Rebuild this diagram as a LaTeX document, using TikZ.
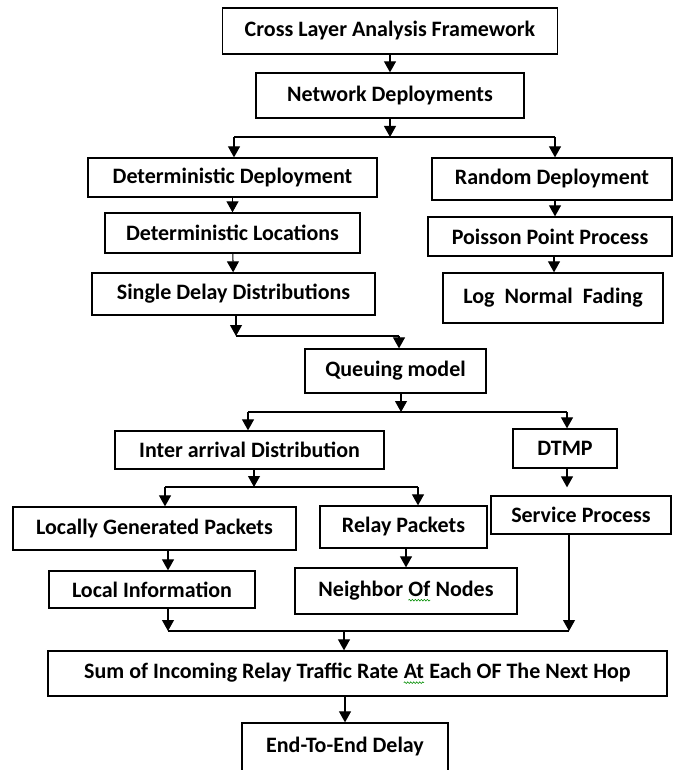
\documentclass[tikz,border=0pt]{standalone}
\usepackage{fontspec}
\setmainfont{Carlito}
\usepackage{tikz}
\usetikzlibrary{arrows.meta}
\usetikzlibrary{calc}
\usetikzlibrary{decorations.pathmorphing}

\newcommand\squig[1]{\tikz[baseline=(sq.base)]{\node[draw=none,inner sep=0pt,outer sep=0pt,minimum width=0pt,minimum height=0pt] (sq) {#1};
  \draw[green!55!black,line width=.6pt,decorate,decoration={snake,amplitude=.8pt,segment length=3pt}]
    ([yshift=-4pt]sq.base west) -- ([yshift=-4pt]sq.base east);}}

\tikzset{
  box/.style={draw,line width=1.3pt,inner sep=0pt,align=center,
    font=\fontsize{22}{26}\selectfont\bfseries},
  arr/.style={line width=1.1pt,-{Triangle[length=11pt,width=12pt]}},
  ln/.style={line width=1.1pt}
}

\begin{document}
\begin{tikzpicture}[x=1pt,y=-1pt]
  \useasboundingbox (0,0) rectangle (674,770);
  \node[box,minimum width=335,minimum height=46] (cross) at (390,31) {Cross Layer Analysis Framework};
  \node[box,minimum width=268,minimum height=45] (net) at (390,95.5) {Network Deployments};
  \node[box,minimum width=289,minimum height=39] (detdep) at (232.5,177.5) {Deterministic Deployment};
  \node[box,minimum width=240,minimum height=42] (random) at (552,179) {Random Deployment};
  \node[box,minimum width=255,minimum height=40] (detloc) at (232.5,233) {Deterministic Locations};
  \node[box,minimum width=244,minimum height=39] (poisson) at (550,236.5) {Poisson Point Process};
  \node[box,minimum width=283,minimum height=42] (single) at (233.5,294) {Single Delay Distributions};
  \node[box,minimum width=220,minimum height=50] (fading) at (553,298) {Log\ \ Normal\ \ Fading};
  \node[box,minimum width=181,minimum height=44] (queue) at (395.5,371) {Queuing model};
  \node[box,minimum width=269,minimum height=38] (inter) at (249.5,450) {Inter arrival Distribution};
  \node[box,minimum width=104,minimum height=39] (dtmp) at (565,448.5) {DTMP};
  \node[box,minimum width=283,minimum height=43] (locgen) at (154.5,528.5) {Locally Generated Packets};
  \node[box,minimum width=167,minimum height=42] (relay) at (403.5,527) {Relay Packets};
  \node[box,minimum width=180,minimum height=38] (service) at (581,515) {Service Process};
  \node[box,minimum width=206,minimum height=37] (locinfo) at (152,589.5) {Local Information};
  \node[box,minimum width=222,minimum height=46] (neighbor) at (406,591) {Neighbor \squig{Of} Nodes};
  \node[box,minimum width=619,minimum height=45] (sum) at (357.5,673.5) {Sum of Incoming Relay Traffic Rate \squig{At} Each OF The Next Hop};
  \node[box,minimum width=206,minimum height=48] (endd) at (345,747) {End-To-End Delay};

  \coordinate (s1) at (390,137);
  \coordinate (s1l) at (234,137);
  \coordinate (s1r) at (555,137);
  \coordinate (s2) at (236,336);
  \coordinate (s2r) at (399,336);
  \coordinate (s3) at (401,412);
  \coordinate (s3l) at (248,412);
  \coordinate (s3r) at (567,412);
  \coordinate (s4) at (254,487);
  \coordinate (s4l) at (165,487);
  \coordinate (s4r) at (418,487);
  \coordinate (s5) at (344,631);
  \coordinate (s5l) at (168,631);
  \coordinate (s5r) at (569,631);

  \draw[arr] (cross) -- (net);
  \draw[arr] (net) -- (s1);
  \draw[ln] (s1l) -- (s1r);
  \draw[arr] (s1l) -- (s1l |- detdep.north);
  \draw[arr] (s1r) -- (s1r |- random.north);
  \draw[arr] (detdep) -- (detloc);
  \draw[arr] (detloc) -- (single);
  \draw[arr] (random.south -| s1r) -- (poisson.north -| s1r);
  \draw[arr] (poisson.south -| 554,0) -- (fading.north -| 554,0);
  \draw[arr] (single.south -| s2) -- (s2);
  \draw[ln] (s2) -- (s2r);
  \draw[arr] (s2r) -- (s2r |- queue.north);
  \draw[arr] (queue.south -| s3) -- (s3);
  \draw[ln] (s3l) -- (s3r);
  \draw[arr] (s3l) -- (s3l |- inter.north);
  \draw[arr] (s3r) -- (s3r |- dtmp.north);
  \draw[arr,shorten >=8pt] (dtmp.south -| s3r) -- (service.north -| s3r);
  \draw[arr] (inter.south -| s4) -- (s4);
  \draw[ln] (s4l) -- (s4r);
  \draw[arr] (s4l) -- (s4l |- locgen.north);
  \draw[arr] (s4r) -- (s4r |- relay.north);
  \draw[arr] (locgen.south -| s5l) -- (locinfo.north -| s5l);
  \draw[arr] (relay.south -| neighbor) -- (neighbor.north);
  \draw[arr] (locinfo.south -| s5l) -- (s5l);
  \draw[arr] (service.south -| s5r) -- (s5r);
  \draw[ln] (s5l) -- (s5r);
  \draw[arr] (s5) -- (s5 |- sum.north);
  \draw[arr] (sum.south -| endd) -- (endd.north);
\end{tikzpicture}
\end{document}
